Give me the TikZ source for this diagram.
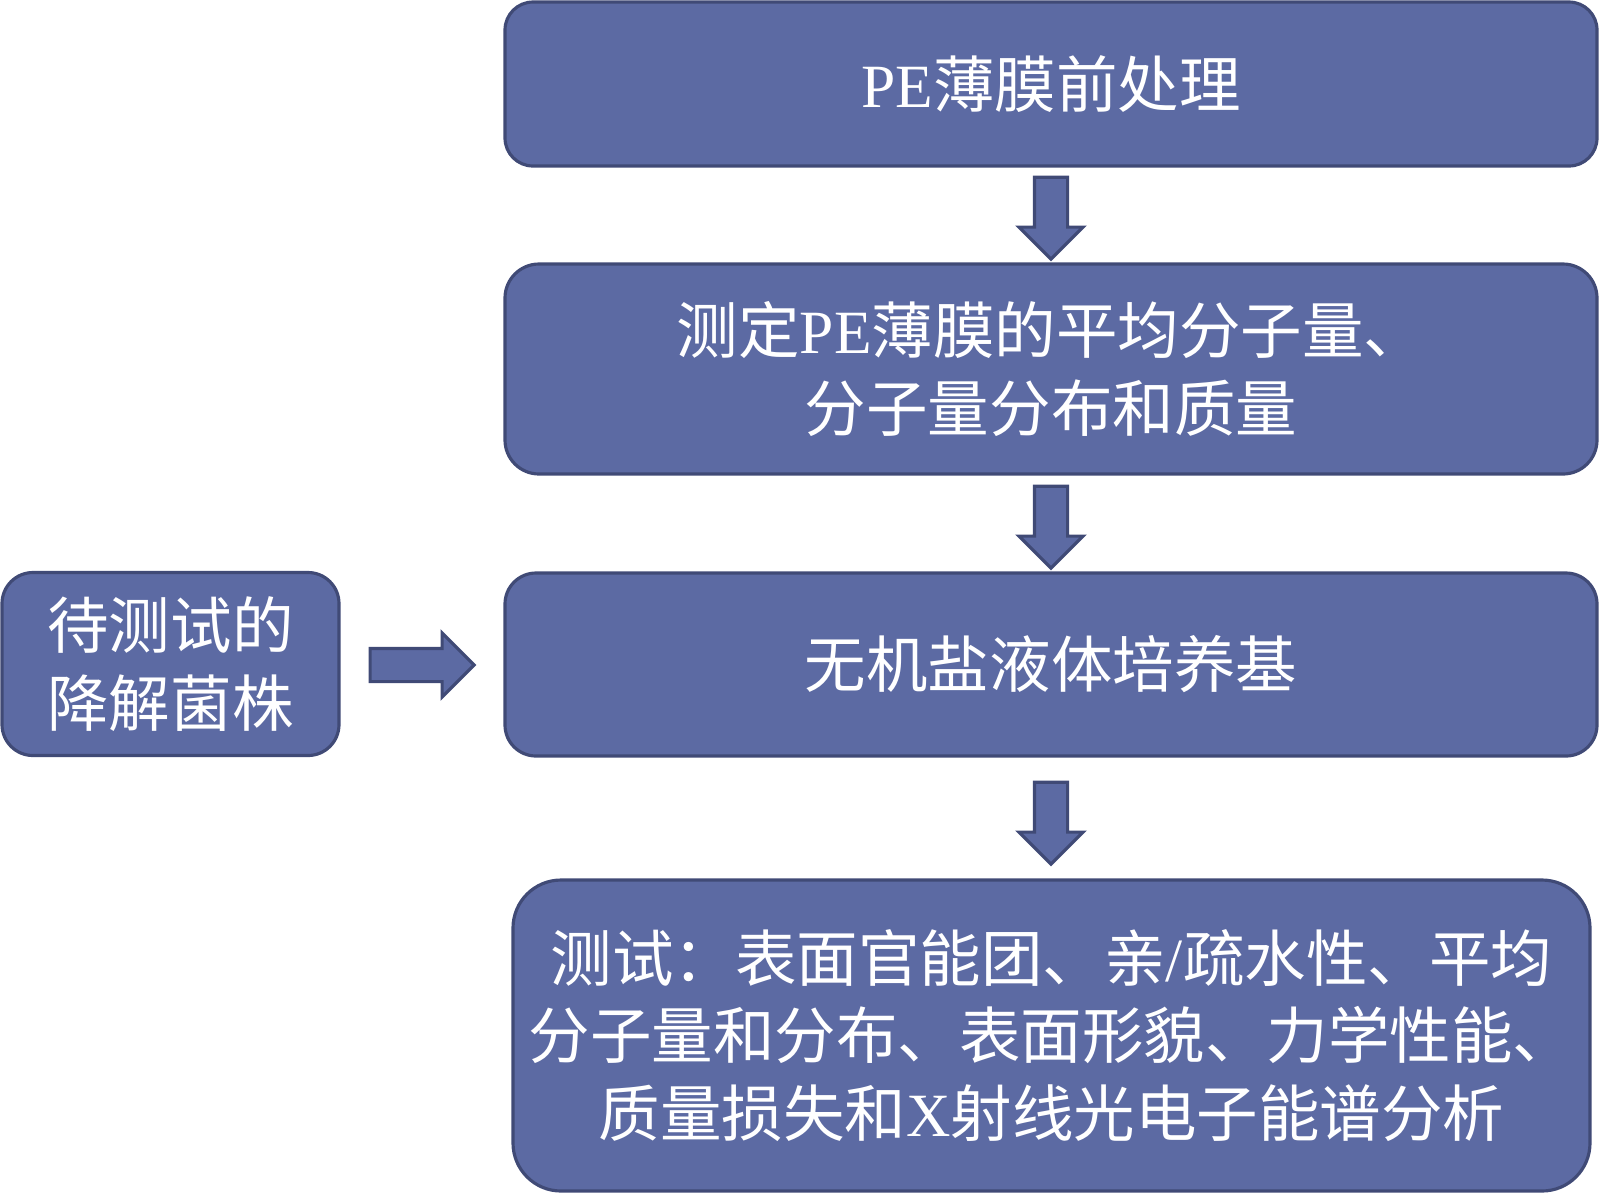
\documentclass[tikz,border=0pt]{standalone}
\usepackage{fontspec}
\setmainfont{Liberation Serif}
\newfontfamily\cjk{Noto Sans CJK SC}
\usepackage{tikz}
\usetikzlibrary{positioning,calc,shapes.arrows}

\definecolor{boxblue}{RGB}{92,106,163}
\definecolor{boxedge}{RGB}{64,74,118}

\begin{document}
\begin{tikzpicture}[
  every node/.style={font=\cjk\fontsize{17.5}{22}\selectfont, text=white},
  stepbox/.style={draw=boxedge, line width=0.9pt, fill=boxblue, align=center, inner sep=0pt},
  blockarrow/.style={single arrow, draw=boxedge, line width=0.9pt, fill=boxblue, anchor=tail,
    minimum height=0.82cm, single arrow head extend=0.155cm, inner xsep=0pt, inner ysep=0.15cm},
  ]
\useasboundingbox (0,0) rectangle (15.99,-11.94);

% Nodes
\node[stepbox, minimum width=10.92cm, minimum height=1.64cm, rounded corners=0.28cm]
  (pre) at (10.51,-0.84) {{\rmfamily PE}薄膜前处理};
\node[stepbox, minimum width=10.92cm, minimum height=2.10cm, rounded corners=0.34cm]
  (mw) at (10.51,-3.69) {测定{\rmfamily PE}薄膜的平均分子量、\\分子量分布和质量};
\node[stepbox, minimum width=10.92cm, minimum height=1.83cm, rounded corners=0.31cm]
  (medium) at (10.51,-6.645) {无机盐液体培养基};
\node[stepbox, minimum width=3.37cm, minimum height=1.83cm, rounded corners=0.31cm]
  (strain) at (1.705,-6.64) {待测试的\\降解菌株};
\node[stepbox, minimum width=10.77cm, minimum height=3.11cm, rounded corners=0.48cm]
  (test) at (10.515,-10.355) {测试：表面官能团、亲{\rmfamily /}疏水性、平均\\分子量和分布、表面形貌、力学性能、\\质量损失和{\rmfamily X}射线光电子能谱分析};

% Arrows
\node[blockarrow, rotate=-90] (a1) at ($(pre.south)+(0,-0.08)$) {};
\node[blockarrow, rotate=-90] (a2) at ($(mw.south)+(0,-0.09)$) {};
\node[blockarrow, rotate=-90] (a3) at ($(medium.south)+(0,-0.23)$) {};
\node[blockarrow, minimum height=1.04cm] (a4) at ($(strain.east)+(0.28,-0.01)$) {};

\end{tikzpicture}
\end{document}
